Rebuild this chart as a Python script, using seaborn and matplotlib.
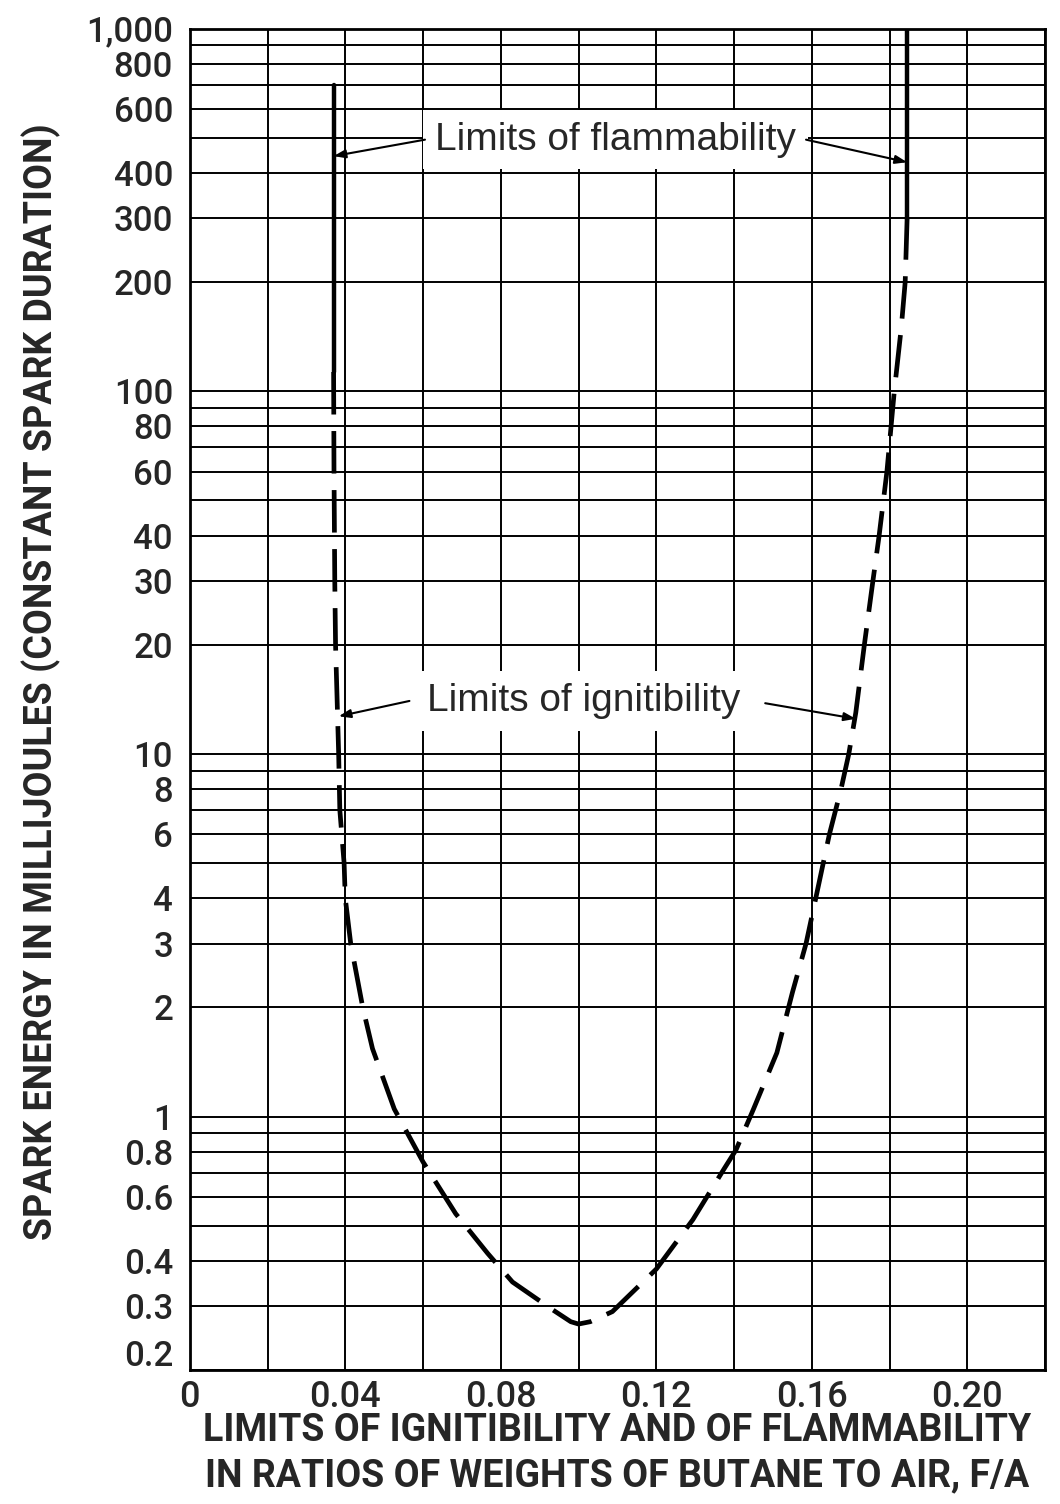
import seaborn as sns
import matplotlib.pyplot as plt
import matplotlib.transforms as mtransforms
from matplotlib.ticker import NullFormatter

# axis ticks / grid
ratio_ticks = [0, 0.04, 0.08, 0.12, 0.16, 0.20]
ratio_tick_labels = ['0', '0.04', '0.08', '0.12', '0.16', '0.20']
ratio_grid = [0, 0.02, 0.04, 0.06, 0.08, 0.10, 0.12, 0.14, 0.16, 0.18, 0.20, 0.22]
energy_ticks = [0.2, 0.3, 0.4, 0.6, 0.8, 1, 2, 3, 4, 6, 8, 10, 20, 30, 40, 60, 80,
                100, 200, 300, 400, 600, 800, 1000]
energy_tick_labels = ['0.2', '0.3', '0.4', '0.6', '0.8', '1', '2', '3', '4', '6', '8',
                      '10', '20', '30', '40', '60', '80', '100', '200', '300', '400',
                      '600', '800', '1,000']
energy_grid = [m * 10.0 ** e for e in range(-1, 3) for m in range(1, 10)
               if m * 10.0 ** e >= 0.2] + [1000]

# limits of ignitibility (dashed U curve)
ignit_ratio = [0.0370, 0.0371, 0.0373, 0.0375, 0.0383, 0.0386, 0.0397, 0.0400, 0.0414,
               0.0445, 0.0470, 0.0526, 0.0600, 0.0684, 0.0766, 0.0830, 0.0930, 0.0980,
               0.1000, 0.1030, 0.1087, 0.1200, 0.1294, 0.1375, 0.1405, 0.1450, 0.1510,
               0.1550, 0.1585, 0.1610, 0.1645, 0.1675, 0.1695, 0.1713, 0.1735, 0.1757,
               0.1773, 0.1793, 0.1812, 0.1830, 0.1840, 0.1845]
ignit_energy = [113, 60, 30, 20, 10, 7, 5, 4, 3,
                2, 1.54, 1.05, 0.75, 0.54, 0.42, 0.35, 0.295, 0.272,
                0.268, 0.272, 0.29, 0.38, 0.52, 0.72, 0.81, 1.05, 1.5,
                2.2, 3.0, 4.0, 6.0, 8.0, 10, 13, 20, 30,
                40, 60, 100, 150, 200, 300]

# limits of flammability (solid vertical lines)
flam_left_ratio = [0.037, 0.037]
flam_left_energy = [700, 113]
flam_right_ratio = [0.1845, 0.1845]
flam_right_energy = [1000, 298]

sns.set_style('white')
plt.rcParams['font.family'] = ['Liberation Sans', 'DejaVu Sans']

fig, ax = plt.subplots(figsize=(10.6, 15.04), dpi=100)
fig.subplots_adjust(left=0.179, right=0.986, top=0.981, bottom=0.089)

sns.lineplot(x=ignit_ratio, y=ignit_energy, sort=False, estimator=None,
             color='black', lw=3.4, ax=ax)
ax.lines[-1].set_dashes([9, 3.5])
sns.lineplot(x=flam_left_ratio, y=flam_left_energy, sort=False, estimator=None,
             color='black', lw=3.2, ax=ax)
sns.lineplot(x=flam_right_ratio, y=flam_right_energy, sort=False, estimator=None,
             color='black', lw=3.2, ax=ax)

ax.set_yscale('log')
ax.set_xticks(ratio_grid, minor=True)
ax.set_xticks(ratio_ticks, ratio_tick_labels)
ax.set_yticks(energy_grid, minor=True)
ax.set_yticks(energy_ticks, energy_tick_labels)
ax.yaxis.set_minor_formatter(NullFormatter())
ax.xaxis.set_minor_formatter(NullFormatter())
ax.set_xlim(0, 0.22)
ax.set_ylim(0.2, 1000)

ax.grid(which='both', color='black', lw=1.4)
ax.set_axisbelow(True)
ax.tick_params(which='both', length=0)
ax.tick_params(axis='y', pad=12, labelsize=25)
ax.tick_params(axis='x', pad=7, labelsize=26)
for lab in ax.get_xticklabels() + ax.get_yticklabels():
    lab.set_family(['Roboto', 'DejaVu Sans'])
    lab.set_weight('medium')
# the bottom label sits a little above the frame corner in the original
low_lab = ax.get_yticklabels()[0]
low_lab.set_transform(low_lab.get_transform() +
                      mtransforms.ScaledTranslation(0, 12 / 72, fig.dpi_scale_trans))
for s in ax.spines.values():
    s.set_color('black')
    s.set_linewidth(2)

box = dict(boxstyle='square,pad=0.3', fc='white', ec='none')
arrow = dict(arrowstyle='-|>,head_length=0.7,head_width=0.25', color='black', lw=1.5,
             shrinkA=0, shrinkB=0)

ax.text(0.1095, 494, 'Limits of flammability', ha='center', va='center', fontsize=28,
        bbox=box, zorder=5)
ax.annotate('', xy=(0.037, 445), xytext=(0.0605, 494), arrowprops=arrow, zorder=6)
ax.annotate('', xy=(0.1845, 428), xytext=(0.1585, 494), arrowprops=arrow, zorder=6)

ax.text(0.1012, 14, 'Limits of ignitibility', ha='center', va='center', fontsize=28,
        bbox=box, zorder=5)
ax.annotate('', xy=(0.0383, 12.7), xytext=(0.0565, 14), arrowprops=arrow, zorder=6)
ax.annotate('', xy=(0.1713, 12.5), xytext=(0.148, 13.8), arrowprops=arrow, zorder=6)

label_font = dict(family=['Roboto', 'DejaVu Sans'], weight='bold', size=27)
ax.set_xlabel('LIMITS OF IGNITIBILITY AND OF FLAMMABILITY\n'
              'IN RATIOS OF WEIGHTS OF BUTANE TO AIR, F/A',
              fontdict=label_font, linespacing=1.3)
ax.xaxis.set_label_coords(0.5, -0.031)
ax.set_ylabel('SPARK ENERGY IN MILLIJOULES (CONSTANT SPARK DURATION)', fontdict=label_font)
ax.yaxis.set_label_coords(-0.15, 0.513)

plt.savefig('out.png', dpi=100)
